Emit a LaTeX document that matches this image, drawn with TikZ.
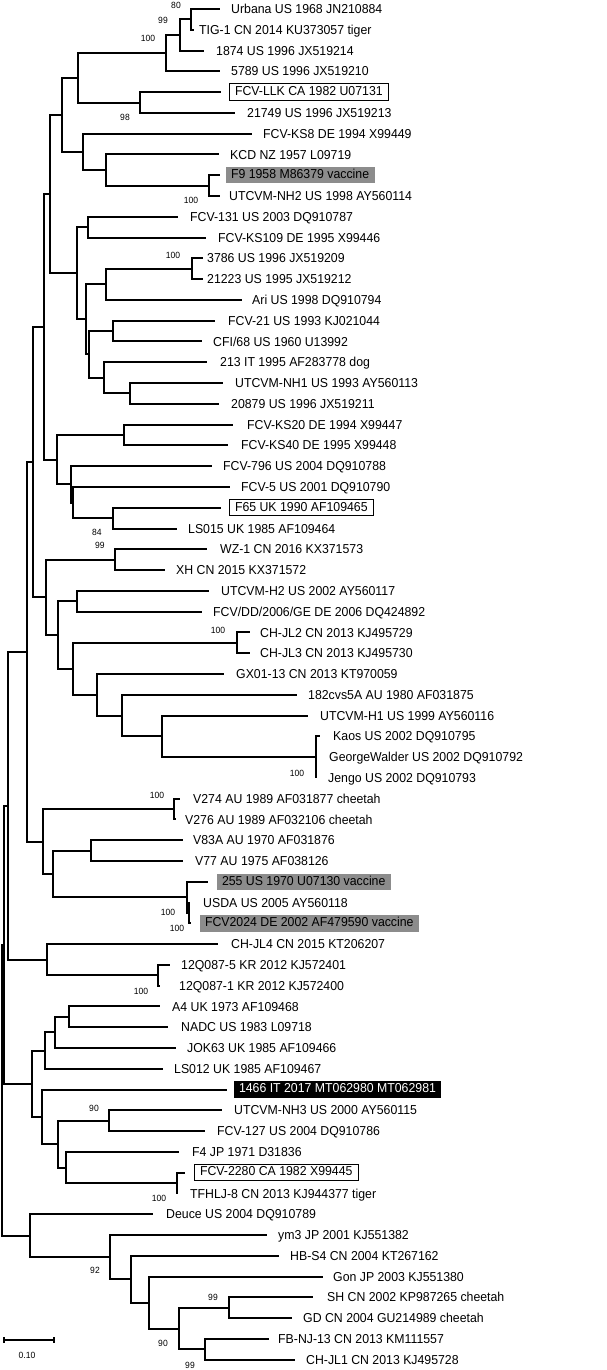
\documentclass[tikz,border=0pt]{standalone}
\usepackage{fontspec}
\setmainfont[FakeStretch=0.95]{Liberation Sans}
\definecolor{boxgray}{RGB}{140,140,140}
\begin{document}
\begin{tikzpicture}[x=1pt,y=-1pt,
  branch/.style={line width=2pt, line join=miter},
  lab/.style={anchor=base west, inner sep=0pt, yshift=-4.6pt, font=\fontsize{12.95}{14}\selectfont},
  boxlab/.style={anchor=west, draw, line width=1pt, inner xsep=5.5pt, inner ysep=2.5pt, text height=9pt, text depth=2.4pt, font=\fontsize{12.95}{14}\selectfont},
  graylab/.style={boxlab, draw=none, fill=boxgray},
  blacklab/.style={boxlab, draw=none, fill=black, text=white},
  bs/.style={font=\fontsize{9}{10}\selectfont, inner sep=0pt}]
\useasboundingbox (0,0) rectangle (607,1370);
% leaf tips
\coordinate (l1) at (220,9);
\coordinate (l2) at (194,29.78);
\coordinate (l3) at (204,50.56);
\coordinate (l4) at (220,71.34);
\coordinate (l5) at (221,92.12);
\coordinate (l6) at (235,112.9);
\coordinate (l7) at (252,133.68);
\coordinate (l8) at (219,154.46);
\coordinate (l9) at (220,175.24);
\coordinate (l10) at (220,196.02);
\coordinate (l11) at (178,216.8);
\coordinate (l12) at (206,237.58);
\coordinate (l13) at (203,258.36);
\coordinate (l14) at (203,279.14);
\coordinate (l15) at (242,299.92);
\coordinate (l16) at (215,320.7);
\coordinate (l17) at (202,341.48);
\coordinate (l18) at (207,362.26);
\coordinate (l19) at (223,383.04);
\coordinate (l20) at (219,403.82);
\coordinate (l21) at (233,424.6);
\coordinate (l22) at (228,445.38);
\coordinate (l23) at (212,466.16);
\coordinate (l24) at (230,486.94);
\coordinate (l25) at (221,507.72);
\coordinate (l26) at (177,528.5);
\coordinate (l27) at (207,549.28);
\coordinate (l28) at (165,570.06);
\coordinate (l29) at (209,590.84);
\coordinate (l30) at (202,611.62);
\coordinate (l31) at (250,632.4);
\coordinate (l32) at (250,653.18);
\coordinate (l33) at (224,673.96);
\coordinate (l34) at (297,694.74);
\coordinate (l35) at (308,715.52);
\coordinate (l36) at (320,736.3);
\coordinate (l37) at (316,757.08);
\coordinate (l38) at (316,777.86);
\coordinate (l39) at (180,798.64);
\coordinate (l40) at (176,819.42);
\coordinate (l41) at (183,840.2);
\coordinate (l42) at (183,860.98);
\coordinate (l43) at (208,881.76);
\coordinate (l44) at (190,902.54);
\coordinate (l45) at (191,923.32);
\coordinate (l46) at (218,944.1);
\coordinate (l47) at (170,964.88);
\coordinate (l48) at (160,985.66);
\coordinate (l49) at (160,1006.44);
\coordinate (l50) at (168,1027.22);
\coordinate (l51) at (176,1048);
\coordinate (l52) at (163,1068.78);
\coordinate (l53) at (227,1089.56);
\coordinate (l54) at (222,1110.34);
\coordinate (l55) at (205,1131.12);
\coordinate (l56) at (179,1151.9);
\coordinate (l57) at (185,1172.68);
\coordinate (l58) at (178,1193.46);
\coordinate (l59) at (153,1214.24);
\coordinate (l60) at (267,1235.02);
\coordinate (l61) at (279,1255.8);
\coordinate (l62) at (323,1276.58);
\coordinate (l63) at (313,1297.36);
\coordinate (l64) at (292,1318.14);
\coordinate (l65) at (269,1338.92);
\coordinate (l66) at (295,1359.7);
% internal nodes
\coordinate (nA) at (191,19.39);
\coordinate (nB) at (180,34.98);
\coordinate (nC) at (166,53.16);
\coordinate (nE) at (140,102.51);
\coordinate (nD) at (78,77.84);
\coordinate (nI) at (209,185.63);
\coordinate (nH) at (106,170.05);
\coordinate (nG) at (83,151.87);
\coordinate (nF) at (62,114.86);
\coordinate (nL) at (88,227.19);
\coordinate (nAF) at (192,268.75);
\coordinate (nAE) at (106,284.34);
\coordinate (nAB) at (113,331.09);
\coordinate (nAH) at (130,393.43);
\coordinate (nAG) at (104,377.85);
\coordinate (nAC) at (89,354.47);
\coordinate (nAD) at (86,319.41);
\coordinate (nK) at (77,273.3);
\coordinate (nJ) at (50,194.08);
\coordinate (nY) at (124,434.99);
\coordinate (nAA) at (113,518.11);
\coordinate (nZb) at (72.5,502.53);
\coordinate (nZa) at (71,484.35);
\coordinate (nN) at (57,459.67);
\coordinate (nM) at (44,326.88);
\coordinate (nWX) at (115,559.67);
\coordinate (nR) at (77,601.23);
\coordinate (nT) at (237,642.79);
\coordinate (nX) at (316,757.08);
\coordinate (nW) at (162,736.3);
\coordinate (nV) at (122,715.52);
\coordinate (nU) at (97,694.74);
\coordinate (nS) at (73,668.77);
\coordinate (nQ) at (58,635);
\coordinate (nP) at (46,597.34);
\coordinate (nO) at (33,462.11);
\coordinate (nAK) at (174,809.03);
\coordinate (nAM) at (91,850.59);
\coordinate (nAO) at (189,912.93);
\coordinate (nAN) at (187,897.35);
\coordinate (nAL) at (53,873.97);
\coordinate (nAJ) at (43,841.5);
\coordinate (nAI) at (27,651.81);
\coordinate (nTw) at (158,975.27);
\coordinate (nAQ) at (47,959.69);
\coordinate (nAP) at (7.5,805.75);
\coordinate (nAW) at (69,1016.83);
\coordinate (nAV) at (55,1032.42);
\coordinate (nAU) at (45,1050.6);
\coordinate (nAZ) at (109,1120.73);
\coordinate (nBB) at (177,1183.07);
\coordinate (nBA) at (66,1167.49);
\coordinate (nAY) at (58,1144.11);
\coordinate (nAX) at (42,1116.84);
\coordinate (nAT) at (32,1083.72);
\coordinate (nAR) at (4,944.74);
\coordinate (nBH) at (229,1307.75);
\coordinate (nBI) at (205,1349.31);
\coordinate (nBG) at (179,1328.53);
\coordinate (nBF) at (149,1302.56);
\coordinate (nBE) at (131,1279.18);
\coordinate (nBD) at (110,1257.1);
\coordinate (nBC) at (30,1235.67);
\coordinate (root) at (1.7,1090.2);
% branches
\foreach \p/\c in {nA/l1,nA/l2,nB/nA,nB/l3,nC/nB,nC/l4,nE/l5,nE/l6,nD/nC,nD/nE,
  nI/l9,nI/l10,nH/l8,nH/nI,nG/l7,nG/nH,nF/nD,nF/nG,nL/l11,nL/l12,
  nAF/l13,nAF/l14,nAE/nAF,nAE/l15,nAB/l16,nAB/l17,nAH/l19,nAH/l20,nAG/l18,nAG/nAH,
  nAC/nAB,nAC/nAG,nAD/nAE,nAD/nAC,nK/nL,nK/nAD,nJ/nF,nJ/nK,
  nY/l21,nY/l22,nAA/l25,nAA/l26,nZb/l24,nZb/nAA,nZa/l23,nZa/nZb,nN/nY,nN/nZa,nM/nJ,nM/nN,
  nWX/l27,nWX/l28,nR/l29,nR/l30,nT/l31,nT/l32,nX/l36,nX/l37,nX/l38,nW/l35,nW/nX,
  nV/l34,nV/nW,nU/l33,nU/nV,nS/nT,nS/nU,nQ/nR,nQ/nS,nP/nWX,nP/nQ,nO/nM,nO/nP,
  nAK/l39,nAK/l40,nAM/l41,nAM/l42,nAO/l44,nAO/l45,nAN/l43,nAN/nAO,nAL/nAM,nAL/nAN,
  nAJ/nAK,nAJ/nAL,nAI/nO,nAI/nAJ,nTw/l47,nTw/l48,nAQ/l46,nAQ/nTw,nAP/nAI,nAP/nAQ,
  nAW/l49,nAW/l50,nAV/nAW,nAV/l51,nAU/nAV,nAU/l52,nAZ/l54,nAZ/l55,nBB/l57,nBB/l58,
  nBA/l56,nBA/nBB,nAY/nAZ,nAY/nBA,nAX/l53,nAX/nAY,nAT/nAU,nAT/nAX,nAR/nAP,nAR/nAT,
  nBH/l63,nBH/l64,nBI/l65,nBI/l66,nBG/nBH,nBG/nBI,nBF/l62,nBF/nBG,nBE/l61,nBE/nBF,
  nBD/l60,nBD/nBE,nBC/l59,nBC/nBD,root/nAR,root/nBC}
  \draw[branch] (\p) |- (\c);
% labels
\node[lab] (t1) at (231,9) {Urbana US 1968 JN210884};
\node[lab] (t2) at (199,29.78) {TIG-1 CN 2014 KU373057 tiger};
\node[lab] (t3) at (216,50.56) {1874 US 1996 JX519214};
\node[lab] (t4) at (231,71.34) {5789 US 1996 JX519210};
\node[boxlab] (t5) at (229,92.12) {FCV-LLK CA 1982 U07131};
\node[lab] (t6) at (247,112.9) {21749 US 1996 JX519213};
\node[lab] (t7) at (263,133.68) {FCV-KS8 DE 1994 X99449};
\node[lab] (t8) at (230,154.46) {KCD NZ 1957 L09719};
\node[graylab] (t9) at (225,175.24) {F9 1958 M86379 vaccine};
\node[lab] (t10) at (229,196.02) {UTCVM-NH2 US 1998 AY560114};
\node[lab] (t11) at (190,216.8) {FCV-131 US 2003 DQ910787};
\node[lab] (t12) at (218,237.58) {FCV-KS109 DE 1995 X99446};
\node[lab] (t13) at (207,258.36) {3786 US 1996 JX519209};
\node[lab] (t14) at (207,279.14) {21223 US 1995 JX519212};
\node[lab] (t15) at (252,299.92) {Ari US 1998 DQ910794};
\node[lab] (t16) at (228,320.7) {FCV-21 US 1993 KJ021044};
\node[lab] (t17) at (213,341.48) {CFI/68 US 1960 U13992};
\node[lab] (t18) at (220,362.26) {213 IT 1995 AF283778 dog};
\node[lab] (t19) at (235,383.04) {UTCVM-NH1 US 1993 AY560113};
\node[lab] (t20) at (231,403.82) {20879 US 1996 JX519211};
\node[lab] (t21) at (247,424.6) {FCV-KS20 DE 1994 X99447};
\node[lab] (t22) at (241,445.38) {FCV-KS40 DE 1995 X99448};
\node[lab] (t23) at (223,466.16) {FCV-796 US 2004 DQ910788};
\node[lab] (t24) at (241,486.94) {FCV-5 US 2001 DQ910790};
\node[boxlab] (t25) at (229,507.72) {F65 UK 1990 AF109465};
\node[lab] (t26) at (188,528.5) {LS015 UK 1985 AF109464};
\node[lab] (t27) at (220,549.28) {WZ-1 CN 2016 KX371573};
\node[lab] (t28) at (176,570.06) {XH CN 2015 KX371572};
\node[lab] (t29) at (221,590.84) {UTCVM-H2 US 2002 AY560117};
\node[lab] (t30) at (213,611.62) {FCV/DD/2006/GE DE 2006 DQ424892};
\node[lab] (t31) at (260,632.4) {CH-JL2 CN 2013 KJ495729};
\node[lab] (t32) at (260,653.18) {CH-JL3 CN 2013 KJ495730};
\node[lab] (t33) at (236,673.96) {GX01-13 CN 2013 KT970059};
\node[lab] (t34) at (308,694.74) {182cvs5A AU 1980 AF031875};
\node[lab] (t35) at (320,715.52) {UTCVM-H1 US 1999 AY560116};
\node[lab] (t36) at (333,736.3) {Kaos US 2002 DQ910795};
\node[lab] (t37) at (329,757.08) {GeorgeWalder US 2002 DQ910792};
\node[lab] (t38) at (328,777.86) {Jengo US 2002 DQ910793};
\node[lab] (t39) at (193,798.64) {V274 AU 1989 AF031877 cheetah};
\node[lab] (t40) at (185,819.42) {V276 AU 1989 AF032106 cheetah};
\node[lab] (t41) at (193,840.2) {V83A AU 1970 AF031876};
\node[lab] (t42) at (195,860.98) {V77 AU 1975 AF038126};
\node[graylab] (t43) at (216,881.76) {255 US 1970 U07130 vaccine};
\node[lab] (t44) at (203,902.54) {USDA US 2005 AY560118};
\node[graylab] (t45) at (199,923.32) {FCV2024 DE 2002 AF479590 vaccine};
\node[lab] (t46) at (231,944.1) {CH-JL4 CN 2015 KT206207};
\node[lab] (t47) at (181,964.88) {12Q087-5 KR 2012 KJ572401};
\node[lab] (t48) at (179,985.66) {12Q087-1 KR 2012 KJ572400};
\node[lab] (t49) at (172,1006.44) {A4 UK 1973 AF109468};
\node[lab] (t50) at (181,1027.22) {NADC US 1983 L09718};
\node[lab] (t51) at (187,1048) {JOK63 UK 1985 AF109466};
\node[lab] (t52) at (174,1068.78) {LS012 UK 1985 AF109467};
\node[blacklab] (t53) at (233,1089.56) {1466 IT 2017 MT062980 MT062981};
\node[lab] (t54) at (234,1110.34) {UTCVM-NH3 US 2000 AY560115};
\node[lab] (t55) at (217,1131.12) {FCV-127 US 2004 DQ910786};
\node[lab] (t56) at (192,1151.9) {F4 JP 1971 D31836};
\node[boxlab] (t57) at (194,1172.68) {FCV-2280 CA 1982 X99445};
\node[lab] (t58) at (190,1193.46) {TFHLJ-8 CN 2013 KJ944377 tiger};
\node[lab] (t59) at (166,1214.24) {Deuce US 2004 DQ910789};
\node[lab] (t60) at (278,1235.02) {ym3 JP 2001 KJ551382};
\node[lab] (t61) at (290,1255.8) {HB-S4 CN 2004 KT267162};
\node[lab] (t62) at (333,1276.58) {Gon JP 2003 KJ551380};
\node[lab] (t63) at (327,1297.36) {SH CN 2002 KP987265 cheetah};
\node[lab] (t64) at (303,1318.14) {GD CN 2004 GU214989 cheetah};
\node[lab] (t65) at (278,1338.92) {FB-NJ-13 CN 2013 KM111557};
\node[lab] (t66) at (306,1359.7) {CH-JL1 CN 2013 KJ495728};
% bootstrap values
\node[bs] (b1) at (176,5) {80};
\node[bs] (b2) at (163,20) {99};
\node[bs] (b3) at (148,38) {100};
\node[bs] (b4) at (125,117) {98};
\node[bs] (b5) at (191,200) {100};
\node[bs] (b6) at (173,255) {100};
\node[bs] (b7) at (97,532) {84};
\node[bs] (b8) at (100,545) {99};
\node[bs] (b9) at (218,630) {100};
\node[bs] (b10) at (297,773) {100};
\node[bs] (b11) at (157,795) {100};
\node[bs] (b12) at (168,912) {100};
\node[bs] (b13) at (177,928) {100};
\node[bs] (b14) at (141,991) {100};
\node[bs] (b15) at (94,1108) {90};
\node[bs] (b16) at (159,1198) {100};
\node[bs] (b17) at (95,1270) {92};
\node[bs] (b18) at (213,1297) {99};
\node[bs] (b19) at (163,1343) {90};
\node[bs] (b20) at (190,1365) {99};
% scale bar
\coordinate (s1) at (4,1340);
\coordinate (s2) at (54,1340);
\draw[line width=1.5pt] (s1) -- (s2);
\draw[line width=1.3pt] ([yshift=3pt]s1) -- ([yshift=-3pt]s1);
\draw[line width=1.3pt] ([yshift=3pt]s2) -- ([yshift=-3pt]s2);
\node[bs] (sc) at (27,1355) {0.10};
\end{tikzpicture}
\end{document}
